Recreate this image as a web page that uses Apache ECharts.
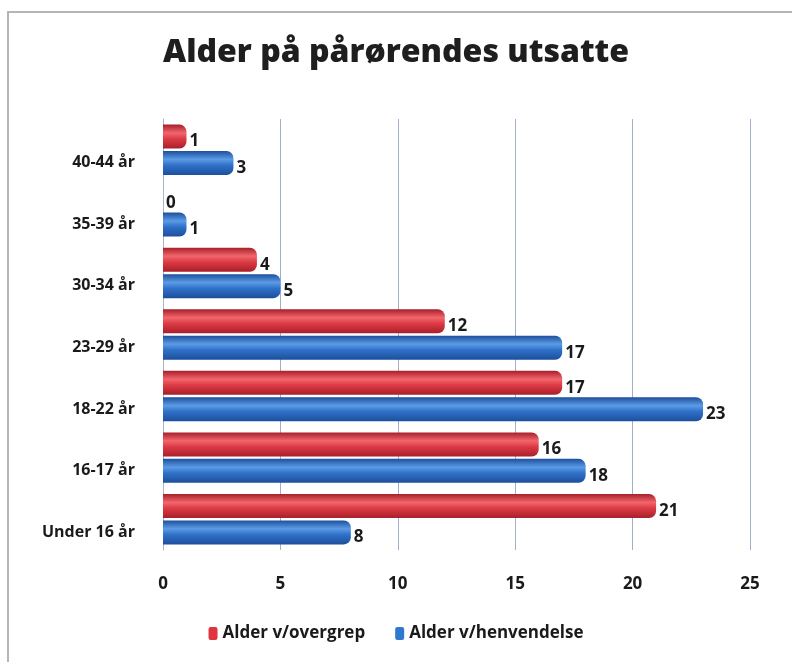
<!DOCTYPE html>
<html>
<head>
<meta charset="utf-8">
<script src="https://cdn.jsdelivr.net/npm/echarts@6/dist/echarts.min.js"></script>
<style>
  html, body { margin: 0; padding: 0; background: #fff; }
  #chart { width: 792px; height: 662px; }
</style>
</head>
<body>
<div id="chart"></div>
<script>
// categories bottom -> top
var categories = ['Under 16 år', '16-17 år', '18-22 år', '23-29 år', '30-34 år', '35-39 år', '40-44 år'];
var overgrep = [21, 16, 17, 12, 4, 0, 1];
var henvendelse = [8, 18, 23, 17, 5, 1, 3];
var xTicks = [0, 5, 10, 15, 20, 25];

var myChart = echarts.init(document.getElementById('chart'));

function tube(dark, mid, light) {
  return new echarts.graphic.LinearGradient(0, 0, 0, 1, [
    { offset: 0, color: dark },
    { offset: 0.35, color: light },
    { offset: 0.6, color: mid },
    { offset: 1, color: dark }
  ]);
}

var labelStyle = {
  show: true,
  position: 'right',
  distance: 3,
  offset: [0, 5],
  color: '#1a1a1a',
  fontWeight: 'bold',
  fontSize: 17,
  fontFamily: 'Open Sans'
};

var option = {
  backgroundColor: '#fff',
  title: {
    text: 'Alder på pårørendes utsatte',
    left: 'center',
    top: 32,
    textStyle: {
      fontFamily: 'Open Sans',
      fontWeight: 800,
      fontSize: 32,
      color: '#1e1e1e'
    }
  },
  legend: {
    bottom: 15,
    left: 'center',
    itemWidth: 9,
    itemHeight: 13,
    itemGap: 30,
    data: [
      { name: 'Alder v/overgrep', itemStyle: { color: '#e03540' } },
      { name: 'Alder v/henvendelse', itemStyle: { color: '#2e78d0' } }
    ],
    textStyle: { fontFamily: 'Open Sans', fontWeight: 'bold', fontSize: 17, color: '#1a1a1a' }
  },
  grid: { left: 163, right: 42, top: 119, bottom: 112 },
  xAxis: {
    type: 'value',
    min: 0,
    max: 25,
    interval: 5,
    axisLine: { show: false },
    axisTick: { show: false },
    splitLine: { lineStyle: { color: '#9fb0c8', width: 1 } },
    axisLabel: {
      margin: 26,
      fontFamily: 'Open Sans',
      fontWeight: 'bold',
      fontSize: 17,
      color: '#1a1a1a',
      formatter: function (v) { return xTicks.indexOf(v) >= 0 ? String(v) : ''; }
    }
  },
  yAxis: {
    type: 'category',
    data: categories,
    axisLine: { show: true, lineStyle: { color: '#a8b6cc' } },
    axisTick: { show: false },
    axisLabel: {
      margin: 28,
      fontFamily: 'Open Sans',
      fontWeight: 'bold',
      fontSize: 16,
      color: '#1a1a1a',
      verticalAlign: 'top',
      lineHeight: 26
    }
  },
  series: [
    {
      name: 'Alder v/overgrep',
      type: 'bar',
      data: overgrep,
      barWidth: 24,
      barGap: '10%',
      itemStyle: {
        color: tube('#a81f2a', '#dc3a44', '#f2666c'),
        borderRadius: [0, 7, 7, 0]
      },
      label: labelStyle
    },
    {
      name: 'Alder v/henvendelse',
      type: 'bar',
      data: henvendelse,
      barWidth: 24,
      barGap: '10%',
      itemStyle: {
        color: tube('#1d4f9c', '#2f70c8', '#5b9be6'),
        borderRadius: [0, 7, 7, 0]
      },
      label: labelStyle
    }
  ],
  graphic: [
    {
      type: 'rect',
      shape: { x: 8, y: 12, width: 790, height: 660 },
      style: { fill: 'none', stroke: '#b5b5b5', lineWidth: 2 },
      silent: true
    }
  ]
};

myChart.setOption(option);
</script>
</body>
</html>
